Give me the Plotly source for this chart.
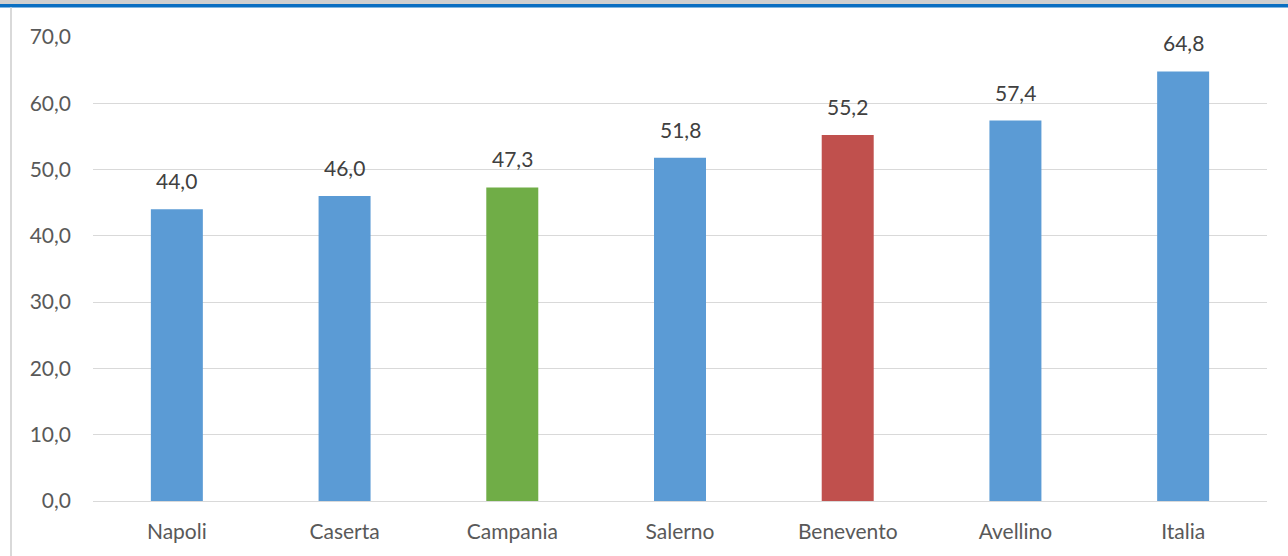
import plotly.graph_objects as go

categories = ["Napoli", "Caserta", "Campania", "Salerno", "Benevento", "Avellino", "Italia"]
values = [44.0, 46.0, 47.3, 51.8, 55.2, 57.4, 64.8]
bar_colors = ["#5b9bd5", "#5b9bd5", "#70ad47", "#5b9bd5", "#c0504d", "#5b9bd5", "#5b9bd5"]
y_ticks = [0, 10, 20, 30, 40, 50, 60, 70]

W, H = 1288, 556
L, R, T, B = 93, 21, 37, 55
pw, ph = W - L - R, H - T - B


def px(x):
    return (x - L) / pw


def py(y):
    return (H - B - y) / ph


fig = go.Figure()
fig.add_trace(go.Bar(
    x=categories,
    y=values,
    marker_color=bar_colors,
    marker_line_width=0,
    width=0.31,
))

# value labels above bars
for c, v in zip(categories, values):
    fig.add_annotation(x=c, y=v, xref="x", yref="y",
                       text=f"{v:.1f}".replace(".", ","),
                       showarrow=False, yanchor="bottom", yshift=14,
                       font=dict(size=21, color="#404040"))

# frame decorations: grey band, blue rule, left border
fig.add_shape(type="rect", xref="paper", yref="paper",
              x0=px(0), x1=px(W), y0=py(0), y1=py(4),
              fillcolor="#d0d0d0", line_width=0)
fig.add_shape(type="rect", xref="paper", yref="paper",
              x0=px(0), x1=px(W), y0=py(4), y1=py(7.5),
              fillcolor="#0a6fc2", line_width=0)
fig.add_shape(type="line", xref="paper", yref="paper",
              x0=px(11), x1=px(11), y0=py(7.5), y1=py(H),
              line=dict(color="#d9d9d9", width=2))

fig.update_layout(
    width=W, height=H,
    margin=dict(l=L, r=R, t=T, b=B),
    plot_bgcolor="white",
    paper_bgcolor="white",
    separators=",.",
    font=dict(family="Lato, Open Sans, sans-serif", size=21, color="#595959"),
    showlegend=False,
    xaxis=dict(showgrid=False, showline=True, linecolor="#d9d9d9", linewidth=1,
               ticks="", automargin=False, ticklabelstandoff=12,
               tickfont=dict(size=21, color="#595959")),
    yaxis=dict(range=[0, 70], tickvals=y_ticks, tickformat=".1f",
               showgrid=True, gridcolor="#d9d9d9", gridwidth=1,
               zeroline=False, showline=False, ticks="", automargin=False,
               ticklabelstandoff=21,
               tickfont=dict(size=21, color="#595959")),
)

fig.write_html("out.html", config={"displayModeBar": False},
               post_script="document.body.style.margin='0';document.body.style.overflow='hidden';")
